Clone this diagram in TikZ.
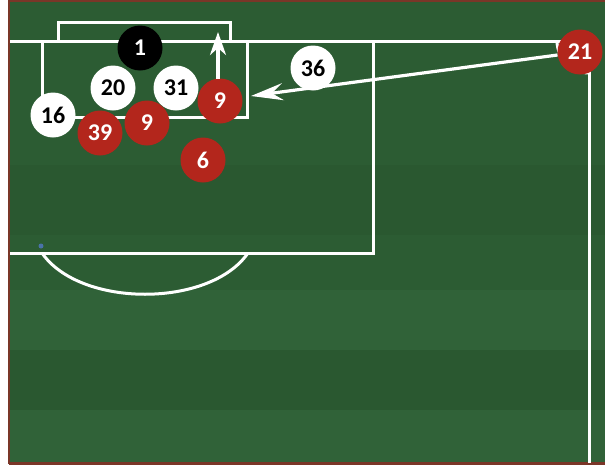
\documentclass[tikz,border=0pt]{standalone}
\usepackage{fontspec}
\setmainfont{Carlito}
\usetikzlibrary{arrows.meta}
\definecolor{field}{HTML}{2C5C33}
\definecolor{bandlight}{HTML}{306238}
\definecolor{banddark}{HTML}{2A5830}
\definecolor{edge}{HTML}{7A3628}
\definecolor{pred}{HTML}{B3261C}
\definecolor{spotblue}{HTML}{4A72A8}
\tikzset{
  pitchline/.style={white, line width=3pt},
  player/.style={circle, minimum size=45pt, inner sep=0pt, font=\bfseries\fontsize{24}{24}\selectfont},
  homeplayer/.style={player, fill=pred, text=white},
  awayplayer/.style={player, fill=white, text=black},
  keeper/.style={player, fill=black, text=white},
  passarrow/.style={white, line width=3.2pt, -{Stealth[length=32pt,width=17pt,inset=11pt]}},
  headarrow/.style={white, line width=3.2pt, -{Stealth[length=23pt,width=16pt,inset=7pt]}}
}
\begin{document}
\begin{tikzpicture}[x=1pt,y=-1pt]
\useasboundingbox (0,0) rectangle (605,466);
\fill[white] (0,0) rectangle (605,466);
% pitch
\fill[field] (10,0) rectangle (605,463);
\fill[banddark] (10,165) rectangle (605,235);
\fill[bandlight] (10,290) rectangle (605,350);
\fill[banddark] (10,350) rectangle (605,410);
\fill[bandlight] (10,410) rectangle (605,463);
\draw[edge, line width=2pt] (9,0) -- (9,464);
\draw[edge, line width=2pt] (10,1) -- (605,1);
\draw[edge, line width=2.5pt] (9,463.5) -- (605,463.5);
% lines
\draw[pitchline] (10,41) -- (589,41);
\draw[pitchline] (589,41) -- (589,463);
\draw[pitchline] (557,41) .. controls (557,58) and (572,73) .. (589,73);
\draw[pitchline] (58,41) -- (58,22) -- (230,22) -- (230,41);
\draw[pitchline] (42,41) -- (42,117) -- (247,117) -- (247,41);
\draw[pitchline] (373,41) -- (373,253) -- (10,253);
\draw[pitchline] (42,253) .. controls (80,308) and (210,308) .. (248,253);
\fill[spotblue] (41,246) circle (2.5);
% players
\node[keeper] (n1) at (140,48) {1};
\node[awayplayer] (n20) at (113,88) {20};
\node[awayplayer] (n31) at (176,88) {31};
\node[awayplayer] (n16) at (53,115) {16};
\node[homeplayer] (n39) at (100,133) {39};
\node[homeplayer] (n9b) at (147,123) {9};
\node[homeplayer] (n9a) at (220,101) {9};
\node[homeplayer] (n6) at (203,160) {6};
\node[awayplayer] (n36) at (313,68) {36};
\node[homeplayer] (n21) at (580,52) {21};
% arrows
\coordinate (crossend) at (251,96);
\coordinate (headerend) at (218,32);
\draw[passarrow] (n21) -- (crossend);
\draw[headarrow] (218,79) -- (headerend);
\end{tikzpicture}
\end{document}
